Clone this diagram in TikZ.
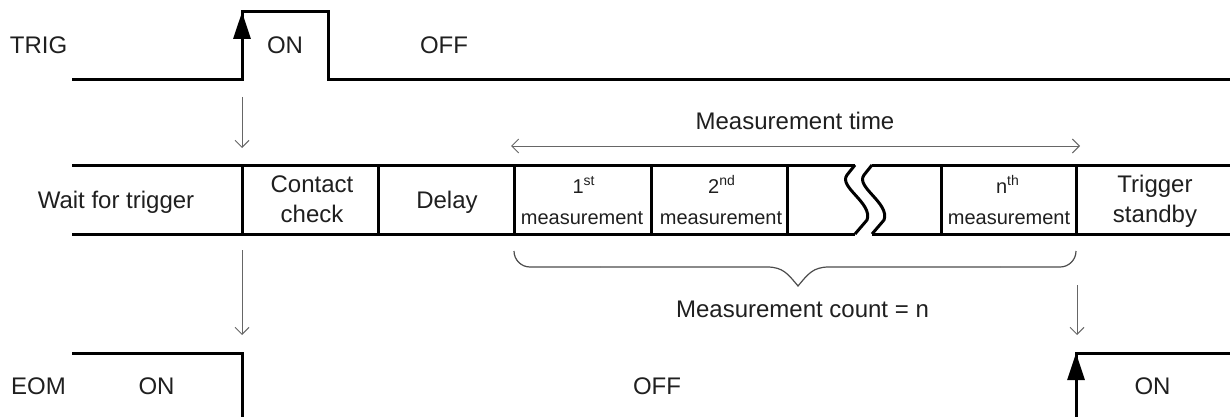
\documentclass[tikz,border=0pt]{standalone}
\usepackage{fontspec}
\setmainfont{Liberation Sans}
\usetikzlibrary{arrows.meta}
\begin{document}
\begin{tikzpicture}[x=0.5pt,y=-0.5pt,
  wave/.style={line width=1.5pt, line join=miter},
  bandline/.style={line width=1.5pt},
  edgearrow/.style={line width=1.5pt, -{Triangle[length=13.5pt,width=8.5pt]}},
  thinarrow/.style={draw=black!60, line width=0.5pt, -{Straight Barb[length=3.5pt,width=7pt]}},
  dblarrow/.style={draw=black!60, line width=0.5pt, {Straight Barb[length=3.5pt,width=7pt]}-{Straight Barb[length=3.5pt,width=7pt]}},
  brace/.style={draw=black!70, line width=0.6pt},
  lbl/.style={font=\fontsize{12}{14}\selectfont, text=black!88, inner sep=0pt, anchor=base},
  sml/.style={font=\fontsize{10}{12}\selectfont, text=black!88, inner sep=0pt, anchor=base},
]
\useasboundingbox (0,0) rectangle (1230,417);

% ---------- TRIG waveform ----------
\draw[wave] (72,80) -- (242,80) -- (242,12) -- (328,12) -- (328,80) -- (1230,80);
\coordinate (trigLow) at (242,80);
\coordinate (trigHigh) at (242,12);
\draw[edgearrow] (trigLow) -- (trigHigh);
\node[lbl] (trig) at (38.5,54) {TRIG};
\node[lbl] (trigon) at (285,54) {ON};
\node[lbl] (trigoff) at (444,54) {OFF};

% ---------- middle band ----------
\draw[bandline] (72,165) -- (855,165);
\draw[bandline] (872,165) -- (1230,165);
\draw[bandline] (72,234) -- (855,234);
\draw[bandline] (872,234) -- (1230,234);
\foreach \x in {242,378,514,651,787,941,1076}
  \draw[bandline] (\x,165) -- (\x,234);
% break
\draw[bandline] (855,165) -- (847,175) .. controls (838,187) and (873,203) .. (867,220) -- (855,234);
\draw[bandline] (872,165) -- (864,175) .. controls (855,187) and (890,203) .. (884,220) -- (872,234);

\node[lbl] (wait) at (116,208) {Wait for trigger};
\node[lbl] (contact) at (312,192) {Contact};
\node[lbl] (check) at (312,222) {check};
\node[lbl] (delay) at (447,208) {Delay};
\node[sml] (m1a) at (584,193) {1\textsuperscript{st}};
\node[sml] (m1b) at (582,224) {measurement};
\node[sml] (m2a) at (722,193) {2\textsuperscript{nd}};
\node[sml] (m2b) at (721,224) {measurement};
\node[sml] (mna) at (1008,193) {n\textsuperscript{th}};
\node[sml] (mnb) at (1009,224) {measurement};
\node[lbl] (trg) at (1155,192) {Trigger};
\node[lbl] (stb) at (1155,222) {standby};

% measurement time
\coordinate (mtL) at (511,146);
\coordinate (mtR) at (1080,146);
\draw[dblarrow] (mtL) -- (mtR);
\node[lbl] (mtime) at (795,129) {Measurement time};

% brace
\draw[brace, rounded corners=8pt] (514,251) -- (514,267) -- (600,267);
\draw[brace] (600,267) -- (767,267) .. controls (783,267) and (788,274) .. (798,286)
  .. controls (808,274) and (813,267) .. (829,267) -- (1000,267);
\draw[brace, rounded corners=8pt] (1000,267) -- (1076,267) -- (1076,251);
\node[lbl] (mcount) at (802.5,317) {Measurement count = n};

% vertical cause arrows
\coordinate (a1s) at (242,97);
\coordinate (a1e) at (242,148);
\draw[thinarrow] (a1s) -- (a1e);
\coordinate (a2s) at (242,250);
\coordinate (a2e) at (242,335);
\draw[thinarrow] (a2s) -- (a2e);
\coordinate (a3s) at (1077,285);
\coordinate (a3e) at (1077,335);
\draw[thinarrow] (a3s) -- (a3e);

% ---------- EOM waveform ----------
\draw[wave] (72,353) -- (242,353) -- (242,417);
\draw[wave] (1076,417) -- (1076,353) -- (1230,353);
\coordinate (eomLow) at (1076,417);
\coordinate (eomHigh) at (1076,353);
\draw[edgearrow] (eomLow) -- (eomHigh);
\node[lbl] (eom) at (38.5,394) {EOM};
\node[lbl] (eomon) at (156.5,394) {ON};
\node[lbl] (eomoff) at (657,394) {OFF};
\node[lbl] (eomon2) at (1152.5,394) {ON};
\end{tikzpicture}
\end{document}
